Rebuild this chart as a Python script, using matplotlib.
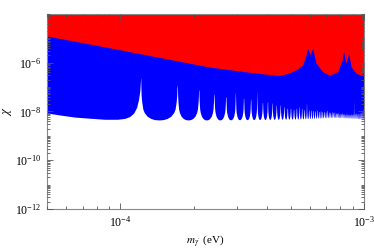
import numpy as np
import matplotlib
matplotlib.use("Agg")
import matplotlib.pyplot as plt
from matplotlib.ticker import FixedLocator, LogLocator, NullFormatter

# blue region: lower edge left of the first resonance (mass in eV, chi)
LEFT_M = [5.0e-5, 5.64e-5, 6.5e-5, 7.49e-5, 8.62e-5, 9.75e-5, 1.042e-4, 1.092e-4,
          1.135e-4, 1.167e-4, 1.189e-4, 1.203e-4]
LEFT_CHI = [8.7e-9, 7.2e-9, 5.9e-9, 5.3e-9, 4.8e-9, 4.8e-9, 5.2e-9, 6.2e-9,
            8.7e-9, 1.5e-8, 3.3e-8, 7.6e-8]

# resonances of the blue limit and how high each spike is drawn
SPIKE_M = [1.211e-4, 1.713e-4, 2.098e-4, 2.422e-4, 2.708e-4, 2.966e-4, 3.204e-4, 3.425e-4,
           3.633e-4, 3.830e-4, 4.016e-4, 4.195e-4, 4.366e-4, 4.531e-4, 4.690e-4, 4.844e-4,
           4.993e-4, 5.138e-4, 5.279e-4, 5.416e-4, 5.549e-4, 5.680e-4, 5.808e-4, 5.933e-4,
           6.055e-4, 6.175e-4, 6.293e-4, 6.408e-4, 6.521e-4, 6.633e-4, 6.743e-4, 6.850e-4,
           6.957e-4, 7.061e-4, 7.164e-4, 7.266e-4, 7.366e-4, 7.465e-4, 7.563e-4, 7.659e-4,
           7.754e-4, 7.848e-4, 7.941e-4, 8.033e-4, 8.124e-4, 8.213e-4, 8.302e-4, 8.390e-4,
           8.477e-4, 8.563e-4, 8.648e-4, 8.733e-4, 8.816e-4, 8.899e-4, 8.981e-4, 9.062e-4,
           9.143e-4, 9.223e-4, 9.302e-4, 9.380e-4, 9.458e-4, 9.535e-4, 9.612e-4, 9.688e-4,
           9.763e-4, 9.838e-4, 9.912e-4, 9.986e-4]
SPIKE_TOP = [2.4e-7, 1.2e-7, 7.6e-8, 5.2e-8, 4.0e-8, 5.9e-8, 3.5e-8, 3.2e-8,
             6.5e-8, 2.3e-8, 2.5e-8, 2.2e-8, 1.85e-8, 1.85e-8, 1.57e-8, 1.35e-8,
             1.35e-8, 1.23e-8, 1.35e-8, 1.57e-8, 1.35e-8, 1.2e-8, 2.2e-8, 1.15e-8,
             1.15e-8, 1.1e-8, 1.05e-8, 1.15e-8, 1.0e-8, 1.05e-8, 9.8e-9, 1.0e-8,
             9.5e-9, 1.1e-8, 9.5e-9, 9.2e-9, 9.8e-9, 9.0e-9, 9.5e-9, 8.7e-9,
             8.5e-9, 9.0e-9, 8.2e-9, 8.0e-9, 8.7e-9, 7.8e-9, 8.0e-9, 7.6e-9,
             8.5e-9, 7.5e-9, 7.8e-9, 7.4e-9, 8.0e-9, 7.5e-9, 7.8e-9, 2.4e-8,
             8.0e-9, 8.2e-9, 8.7e-9, 8.0e-9, 8.7e-9, 8.2e-9, 9.0e-9, 8.5e-9,
             9.2e-9, 1.0e-8, 1.35e-8, 9.0e-9]

# bottom of the bowls between resonances
FLOOR_M = [1.2e-4, 2.5e-4, 4.0e-4, 5.5e-4, 7.5e-4, 8.5e-4, 1.0e-3]
FLOOR_CHI = [4.5e-9, 4.5e-9, 4.7e-9, 4.9e-9, 5.7e-9, 5.4e-9, 4.9e-9]

# bowl profile: fraction spike->centre, decades above floor
BOWL_T = [0.003, 0.008, 0.015, 0.03, 0.06, 0.1, 0.18, 0.28, 0.38, 0.5]
BOWL_RISE = [1.8, 1.3, 1.0, 0.75, 0.45, 0.3, 0.15, 0.06, 0.015, 0.0]

# red region: lower edge
RED_M = [5.0e-5, 8.23e-5, 1.318e-4, 2.32e-4, 3.08e-4, 3.90e-4, 4.50e-4, 4.94e-4,
         5.33e-4, 5.60e-4, 5.78e-4, 5.87e-4, 6.01e-4, 6.15e-4, 6.35e-4, 6.76e-4,
         7.21e-4, 7.80e-4, 8.13e-4, 8.25e-4, 8.43e-4, 8.65e-4, 8.85e-4, 9.27e-4,
         9.72e-4, 1.0e-3]
RED_CHI = [1.25e-5, 4.9e-6, 1.98e-6, 6.7e-7, 4.6e-7, 3.45e-7, 3.0e-7, 3.8e-7,
           5.5e-7, 8.1e-7, 2.08e-6, 3.9e-6, 2.08e-6, 3.9e-6, 9.8e-7, 4.3e-7,
           3.1e-7, 4.3e-7, 1.3e-6, 2.84e-6, 9.5e-7, 2.44e-6, 6.9e-7, 3.7e-7,
           3.1e-7, 3.9e-7]

XLIM = (5e-5, 1e-3)
YLIM = (1e-12, 1e-4)

plt.rcParams["font.family"] = "serif"
plt.rcParams["font.serif"] = ["Liberation Serif", "DejaVu Serif"]
plt.rcParams["mathtext.fontset"] = "stix"

# assemble the blue lower edge from the read points
fm, fc = np.log10(FLOOR_M), np.log10(FLOOR_CHI)
low_m, low_c = list(LEFT_M), list(LEFT_CHI)
half = list(zip(BOWL_T, BOWL_RISE))
for i in range(len(SPIKE_M)):
    ma, ta = SPIKE_M[i], SPIKE_TOP[i]
    low_m.append(ma)
    low_c.append(ta)
    if i + 1 == len(SPIKE_M):
        break
    mb, tb = SPIKE_M[i + 1], SPIKE_TOP[i + 1]
    la, lb = np.log10(ma), np.log10(mb)
    for t, r in half:
        lg = la + t * (lb - la)
        f = np.interp(lg, fm, fc)
        low_m.append(10 ** lg)
        low_c.append(10 ** (f + min(r, np.log10(ta) - f)))
    for t, r in reversed(half[:-1]):
        lg = lb - t * (lb - la)
        f = np.interp(lg, fm, fc)
        low_m.append(10 ** lg)
        low_c.append(10 ** (f + min(r, np.log10(tb) - f)))
low_m.append(XLIM[1])
low_c.append(SPIKE_TOP[-1])

fig = plt.figure(figsize=(3.74, 2.49), dpi=100)
ax = fig.add_axes([47 / 374, 40 / 249, 317 / 374, 195 / 249])

ax.fill_between(low_m, low_c, YLIM[1], color="#0000ff", lw=0)
ax.fill_between(RED_M, RED_CHI, YLIM[1], color="#ff0000", lw=0)

ax.set_xscale("log")
ax.set_yscale("log")
ax.set_xlim(*XLIM)
ax.set_ylim(*YLIM)

ax.yaxis.set_major_locator(FixedLocator([1e-12, 1e-10, 1e-8, 1e-6]))
ax.yaxis.set_minor_locator(LogLocator(base=10, subs=np.arange(1, 10), numticks=30))
ax.yaxis.set_minor_formatter(NullFormatter())
ax.xaxis.set_major_locator(FixedLocator([1e-4, 1e-3]))
ax.xaxis.set_minor_locator(LogLocator(base=10, subs=np.arange(2, 10), numticks=30))
ax.xaxis.set_minor_formatter(NullFormatter())

ax.tick_params(which="both", direction="in", top=True, right=True,
               color="#555555", labelsize=8.5, width=0.6)
ax.tick_params(which="major", length=4, pad=4)
ax.tick_params(which="minor", length=2)
for s in ax.spines.values():
    s.set_color("#888888")
    s.set_linewidth(0.8)
ax.set_axisbelow(False)

ax.set_xlabel(r"$m_{\gamma^{\prime}}$ (eV)", fontsize=8, labelpad=3)
ax.set_ylabel(r"$\chi$", fontsize=9, labelpad=1)

fig.savefig("out.png", dpi=100)
